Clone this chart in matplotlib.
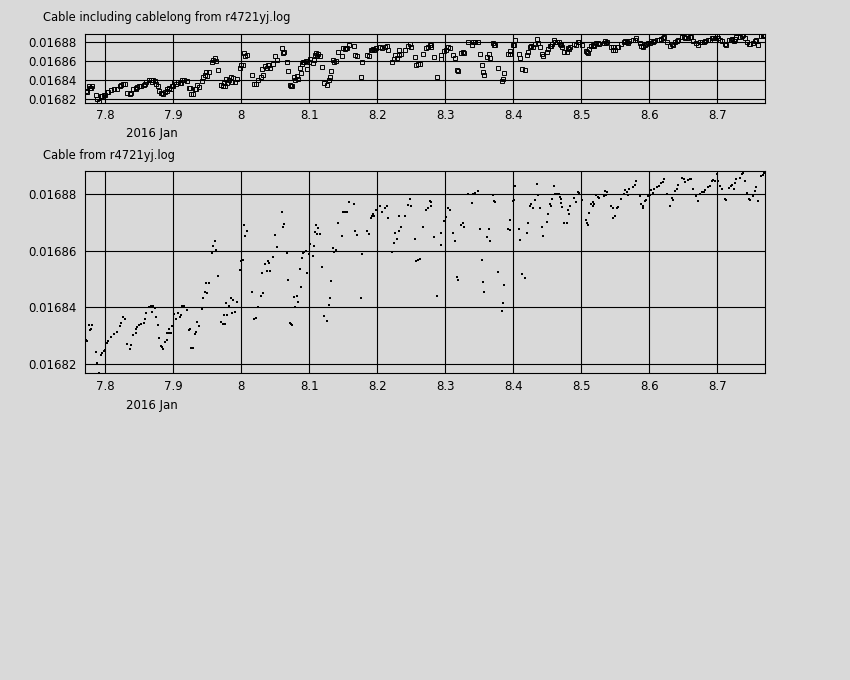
import matplotlib
matplotlib.use("Agg")
import matplotlib.pyplot as plt

BG = "#d9d9d9"

# Day of January 2016 (fractional) and cable delay values
days = [
    7.7711, 7.7725, 7.7755, 7.7804, 7.7784, 7.7770, 7.7858, 7.7882, 7.7907, 7.7941,
    7.7956, 7.7980, 7.8000, 7.8029, 7.8044, 7.8078, 7.8123, 7.8176, 7.8211, 7.8230,
    7.8265, 7.8284, 7.8324, 7.8373, 7.8363, 7.8402, 7.8446, 7.8446, 7.8471, 7.8495,
    7.8520, 7.8564, 7.8578, 7.8598, 7.8642, 7.8667, 7.8696, 7.8686, 7.8735, 7.8750,
    7.8775, 7.8789, 7.8814, 7.8833, 7.8853, 7.8873, 7.8902, 7.8912, 7.8941, 7.8961,
    7.8936, 7.8980, 7.9000, 7.9015, 7.9039, 7.9064, 7.9093, 7.9113, 7.9127, 7.9152,
    7.9196, 7.9225, 7.9245, 7.9260, 7.9289, 7.9324, 7.9338, 7.9353, 7.9377, 7.9426,
    7.9436, 7.9461, 7.9500, 7.9480, 7.9520, 7.9569, 7.9588, 7.9608, 7.9632, 7.9662,
    7.9696,
    7.9706, 7.9735, 7.9755, 7.9745, 7.9794, 7.9770, 7.9824, 7.9848, 7.9882, 7.9931,
    7.9868, 7.9902, 7.9985, 8.0000, 8.0020, 8.0034, 8.0059, 8.0088, 8.0162, 8.0186,
    8.0211, 8.0250, 8.0284, 8.0314, 8.0304, 8.0353, 8.0387, 8.0412, 8.0373, 8.0426,
    8.0471, 8.0500, 8.0520, 8.0593, 8.0613, 8.0632, 8.0672, 8.0686, 8.0716, 8.0730,
    8.0745, 8.0775, 8.0814, 8.0784, 8.0833, 8.0858, 8.0882, 8.0892, 8.0912, 8.0946,
    8.0926, 8.0966, 8.0990, 8.1010, 8.1049, 8.1069, 8.1098, 8.1083, 8.1113, 8.1132,
    8.1162, 8.1181, 8.1221, 8.1265, 8.1284, 8.1304, 8.1319, 8.1353, 8.1368, 8.1387,
    8.1426, 8.1480, 8.1500, 8.1534, 8.1559, 8.1525, 8.1583, 8.1657, 8.1676, 8.1696,
    8.1755, 8.1779, 8.1848, 8.1873, 8.1902, 8.1917, 8.1941, 8.1956, 8.1980, 8.2039,
    8.2064, 8.2118, 8.2142, 8.2162, 8.2221, 8.2240, 8.2265, 8.2284, 8.2314, 8.2348,
    8.2324, 8.2407, 8.2446, 8.2480, 8.2500, 8.2554, 8.2569, 8.2593, 8.2623, 8.2676,
    8.2716, 8.2740, 8.2784, 8.2770, 8.2784, 8.2838, 8.2877, 8.2931, 8.2941, 8.2985,
    8.3010, 8.3039, 8.3064, 8.3113, 8.3137, 8.3167, 8.3181, 8.3235, 8.3265, 8.3279,
    8.3333, 8.3402, 8.3441, 8.3485, 8.3392, 8.3515, 8.3539, 8.3554, 8.3574, 8.3618,
    8.3637, 8.3657, 8.3701, 8.3711,
    8.3725, 8.3779, 8.3868, 8.3853, 8.3833, 8.3922, 8.3951, 8.3956, 8.3990, 8.4010,
    8.4020, 8.4078, 8.4103, 8.4127, 8.4176, 8.4196, 8.4216, 8.4245, 8.4265, 8.4294,
    8.4314, 8.4348, 8.4368, 8.4392, 8.4422, 8.4431, 8.4495, 8.4515, 8.4539, 8.4559,
    8.4574, 8.4598, 8.4618, 8.4647, 8.4667, 8.4686, 8.4696, 8.4706, 8.4721, 8.4745,
    8.4784, 8.4804, 8.4838, 8.4824, 8.4892, 8.4922, 8.4951, 8.4971, 8.5010, 8.5069,
    8.5088, 8.5098, 8.5118, 8.5147, 8.5167, 8.5186, 8.5172, 8.5216, 8.5245, 8.5265,
    8.5333, 8.5363, 8.5353, 8.5382, 8.5441, 8.5461, 8.5520, 8.5539, 8.5471, 8.5490,
    8.5588, 8.5627, 8.5647, 8.5667, 8.5696, 8.5686,
    8.5755, 8.5784, 8.5804, 8.5863, 8.5882, 8.5912, 8.5931, 8.5951, 8.5902, 8.5980,
    8.6010, 8.6029, 8.6059, 8.6078, 8.6108, 8.6137, 8.6167, 8.6196, 8.6225, 8.6265,
    8.6304, 8.6333, 8.6343, 8.6373, 8.6402, 8.6422, 8.6480, 8.6510, 8.6529, 8.6569,
    8.6598, 8.6618, 8.6647, 8.6686, 8.6716, 8.6745, 8.6775, 8.6804, 8.6824, 8.6863,
    8.6892, 8.6922, 8.6941, 8.6961, 8.7000, 8.7010, 8.7039, 8.7078, 8.7108, 8.7137,
    8.7167, 8.7196, 8.7225, 8.7255, 8.7245, 8.7270, 8.7333, 8.7363, 8.7382, 8.7412,
    8.7441, 8.7471, 8.7490, 8.7520, 8.7549, 8.7578, 8.7598, 8.7647, 8.7676, 8.7690,
    8.7695,
]

cable = [
    0.0168285, 0.0168282, 0.0168338, 0.0168337, 0.0168323, 0.0168319, 0.0168243, 0.0168204, 0.0168170, 0.0168232,
    0.0168239, 0.0168247, 0.0168250, 0.0168276, 0.0168281, 0.0168296, 0.0168306, 0.0168313, 0.0168336, 0.0168347,
    0.0168366, 0.0168360, 0.0168271, 0.0168269, 0.0168253, 0.0168304, 0.0168311, 0.0168324, 0.0168330, 0.0168337,
    0.0168342, 0.0168346, 0.0168359, 0.0168382, 0.0168400, 0.0168405, 0.0168405, 0.0168384, 0.0168398, 0.0168366,
    0.0168337, 0.0168291, 0.0168265, 0.0168262, 0.0168255, 0.0168280, 0.0168285, 0.0168310, 0.0168309, 0.0168309,
    0.0168323, 0.0168336, 0.0168335, 0.0168377, 0.0168358, 0.0168381, 0.0168367, 0.0168375, 0.0168406, 0.0168404,
    0.0168391, 0.0168319, 0.0168323, 0.0168257, 0.0168256, 0.0168306, 0.0168312, 0.0168349, 0.0168333, 0.0168393,
    0.0168433, 0.0168454, 0.0168450, 0.0168487, 0.0168485, 0.0168592, 0.0168615, 0.0168633, 0.0168602, 0.0168510,
    0.0168349,
    0.0168349, 0.0168343, 0.0168340, 0.0168374, 0.0168374, 0.0168415, 0.0168405, 0.0168433, 0.0168426, 0.0168418,
    0.0168381, 0.0168384, 0.0168531, 0.0168564, 0.0168566, 0.0168692, 0.0168653, 0.0168670, 0.0168453, 0.0168358,
    0.0168363, 0.0168401, 0.0168440, 0.0168451, 0.0168523, 0.0168554, 0.0168565, 0.0168558, 0.0168529, 0.0168529,
    0.0168577, 0.0168657, 0.0168612, 0.0168737, 0.0168683, 0.0168695, 0.0168592, 0.0168498, 0.0168347, 0.0168342,
    0.0168337, 0.0168437, 0.0168442, 0.0168400, 0.0168419, 0.0168535, 0.0168473, 0.0168573, 0.0168592, 0.0168599,
    0.0168597, 0.0168520, 0.0168589, 0.0168625, 0.0168580, 0.0168615, 0.0168692, 0.0168665, 0.0168660, 0.0168681,
    0.0168660, 0.0168543, 0.0168370, 0.0168352, 0.0168408, 0.0168434, 0.0168495, 0.0168610, 0.0168597, 0.0168604,
    0.0168699, 0.0168653, 0.0168737, 0.0168738, 0.0168738, 0.0168735, 0.0168772, 0.0168765, 0.0168670, 0.0168654,
    0.0168434, 0.0168589, 0.0168668, 0.0168660, 0.0168715, 0.0168724, 0.0168730, 0.0168723, 0.0168744, 0.0168756,
    0.0168737, 0.0168750, 0.0168759, 0.0168715, 0.0168594, 0.0168627, 0.0168664, 0.0168640, 0.0168670, 0.0168682,
    0.0168722, 0.0168723, 0.0168760, 0.0168781, 0.0168756, 0.0168642, 0.0168563, 0.0168568, 0.0168570, 0.0168682,
    0.0168744, 0.0168751, 0.0168756, 0.0168774, 0.0168770, 0.0168648, 0.0168439, 0.0168620, 0.0168662, 0.0168706,
    0.0168718, 0.0168751, 0.0168742, 0.0168663, 0.0168636, 0.0168508, 0.0168496, 0.0168689, 0.0168699, 0.0168683,
    0.0168800, 0.0168800, 0.0168805, 0.0168809, 0.0168767, 0.0168678, 0.0168566, 0.0168491, 0.0168454, 0.0168650,
    0.0168677, 0.0168635, 0.0168797, 0.0168774,
    0.0168772, 0.0168526, 0.0168478, 0.0168416, 0.0168389, 0.0168678, 0.0168674, 0.0168710, 0.0168774, 0.0168777,
    0.0168829, 0.0168676, 0.0168639, 0.0168519, 0.0168505, 0.0168663, 0.0168697, 0.0168756, 0.0168763, 0.0168750,
    0.0168779, 0.0168836, 0.0168798, 0.0168751, 0.0168682, 0.0168652, 0.0168702, 0.0168731, 0.0168763, 0.0168758,
    0.0168781, 0.0168827, 0.0168800, 0.0168800, 0.0168800, 0.0168788, 0.0168784, 0.0168768, 0.0168753, 0.0168697,
    0.0168699, 0.0168745, 0.0168756, 0.0168730, 0.0168785, 0.0168771, 0.0168806, 0.0168805, 0.0168777, 0.0168709,
    0.0168698, 0.0168691, 0.0168733, 0.0168765, 0.0168770, 0.0168763, 0.0168757, 0.0168797, 0.0168791, 0.0168785,
    0.0168792, 0.0168798, 0.0168811, 0.0168808, 0.0168756, 0.0168751, 0.0168751, 0.0168753, 0.0168715, 0.0168722,
    0.0168784, 0.0168800, 0.0168814, 0.0168807, 0.0168819, 0.0168795,
    0.0168826, 0.0168830, 0.0168844, 0.0168792, 0.0168765, 0.0168759, 0.0168774, 0.0168779, 0.0168751, 0.0168792,
    0.0168795, 0.0168815, 0.0168805, 0.0168818, 0.0168823, 0.0168828, 0.0168837, 0.0168841, 0.0168854, 0.0168800,
    0.0168757, 0.0168787, 0.0168777, 0.0168809, 0.0168816, 0.0168830, 0.0168856, 0.0168852, 0.0168842, 0.0168849,
    0.0168854, 0.0168852, 0.0168818, 0.0168794, 0.0168774, 0.0168800, 0.0168807, 0.0168807, 0.0168814, 0.0168826,
    0.0168828, 0.0168844, 0.0168849, 0.0168847, 0.0168870, 0.0168847, 0.0168828, 0.0168816, 0.0168781, 0.0168777,
    0.0168821, 0.0168828, 0.0168833, 0.0168840, 0.0168816, 0.0168854, 0.0168856, 0.0168870, 0.0168873, 0.0168844,
    0.0168802, 0.0168784, 0.0168779, 0.0168792, 0.0168812, 0.0168826, 0.0168774, 0.0168863, 0.0168868, 0.0168873,
    0.0168880,
]

x_ticks = [7.8, 7.9, 8.0, 8.1, 8.2, 8.3, 8.4, 8.5, 8.6, 8.7]
x_tick_labels = ["7.8", "7.9", "8", "8.1", "8.2", "8.3", "8.4", "8.5", "8.6", "8.7"]
y_ticks = [0.01682, 0.01684, 0.01686, 0.01688]
y_tick_labels = ["0.01682", "0.01684", "0.01686", "0.01688"]
titles = ["Cable including cablelong from r4721yj.log", "Cable from r4721yj.log"]
date_label = "2016 Jan"

W, H = 850, 680
fig = plt.figure(figsize=(W / 100, H / 100), dpi=100, facecolor=BG)


def px_axes(left, top, right, bottom):
    return fig.add_axes([left / W, 1 - bottom / H, (right - left) / W, (bottom - top) / H])


ax1 = px_axes(85.3, 34.3, 764.5, 102.7)
ax2 = px_axes(85.3, 170.7, 764.5, 373.3)

limits = [(0.0168164, 0.0168885), (0.0168168, 0.0168882)]

for ax, ylim in zip([ax1, ax2], limits):
    ax.set_facecolor(BG)
    ax.set_xlim(7.7706, 8.7696)
    ax.set_ylim(*ylim)
    ax.set_xticks(x_ticks)
    ax.set_xticklabels(x_tick_labels)
    ax.set_yticks(y_ticks)
    ax.set_yticklabels(y_tick_labels)
    ax.tick_params(axis="both", length=0, labelsize=8.5, colors="black")
    ax.tick_params(axis="y", pad=6)
    ax.tick_params(axis="x", pad=4.8)
    ax.grid(True, color="black", linewidth=0.8)
    ax.set_axisbelow(True)
    for sp in ax.spines.values():
        sp.set_linewidth(0.8)
        sp.set_color("black")

ax1.plot(days, cable, linestyle="none", marker="s", markersize=3.3,
         markerfacecolor="none", markeredgecolor="black", markeredgewidth=0.7)
ax2.plot(days, cable, linestyle="none", marker="s", markersize=1.8,
         markerfacecolor="black", markeredgecolor="black", markeredgewidth=0.0)

fig.text(43.3 / W, 1 - 17.5 / H, titles[0], ha="left", va="center", fontsize=8.3)
fig.text(43.3 / W, 1 - 155 / H, titles[1], ha="left", va="center", fontsize=8.3)
fig.text(126 / W, 1 - 134 / H, date_label, ha="left", va="center", fontsize=8.5)
fig.text(126 / W, 1 - 406 / H, date_label, ha="left", va="center", fontsize=8.5)

fig.savefig("out.png", dpi=100, facecolor=BG)
